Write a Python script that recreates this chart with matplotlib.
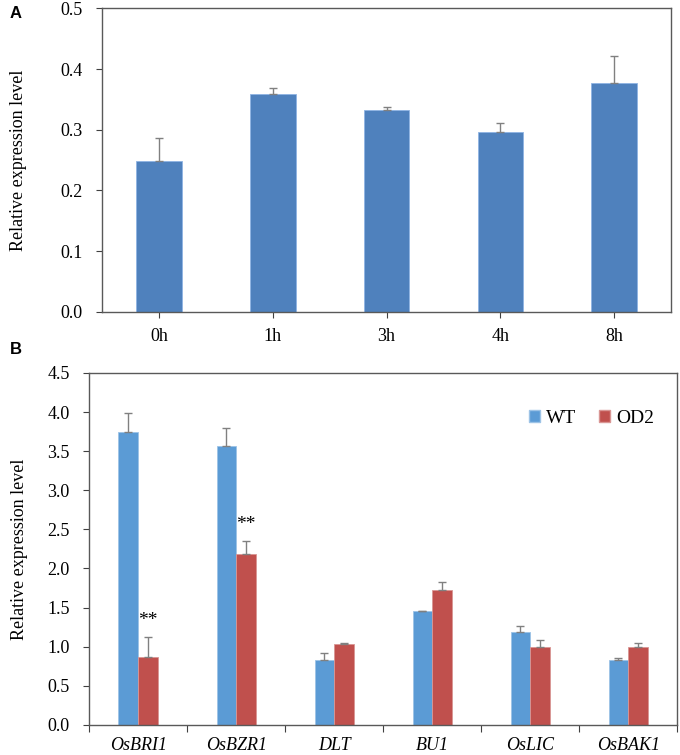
import matplotlib
matplotlib.use("Agg")
from matplotlib import pyplot as plt
from matplotlib.patches import Patch
import numpy as np

# panel A data
times = ["0h", "1h", "3h", "4h", "8h"]
time_vals = [0.249, 0.359, 0.333, 0.296, 0.377]
time_err = [0.038, 0.009, 0.004, 0.015, 0.045]

# panel B data
genes = ["OsBRI1", "OsBZR1", "DLT", "BU1", "OsLIC", "OsBAK1"]
wt_vals = [3.74, 3.56, 0.83, 1.45, 1.19, 0.83]
wt_err = [0.25, 0.23, 0.09, 0.01, 0.08, 0.03]
od2_vals = [0.87, 2.18, 1.03, 1.73, 0.99, 0.99]
od2_err = [0.25, 0.17, 0.02, 0.10, 0.10, 0.06]
signif = ["**", "**", "", "", "", ""]

plt.rcParams["font.family"] = ["Liberation Serif", "DejaVu Serif"]

fig = plt.figure(figsize=(6.8, 7.55), dpi=100)
axA = fig.add_axes([0.150, 0.587, 0.837, 0.402])
axB = fig.add_axes([0.131, 0.040, 0.865, 0.466])

err_kw = dict(ecolor="#808080", elinewidth=1.0, capsize=3, capthick=1.0)

# ---- panel A ----
x = np.arange(len(times))
axA.bar(x, time_vals, 0.4, color="#4F81BD", edgecolor="#8FB4E3", linewidth=0.6,
        yerr=[np.zeros(len(time_err)), time_err], error_kw=err_kw, zorder=2)
axA.set_xlim(-0.5, len(times) - 0.5)
axA.set_ylim(0, 0.5)
axA.set_yticks(np.arange(0, 0.51, 0.1))
axA.set_yticklabels([f"{v:.1f}" for v in np.arange(0, 0.51, 0.1)])
axA.set_xticks(x)
axA.set_xticklabels(times)
axA.tick_params(axis="both", labelsize=13, direction="out", length=4, color="#404040", pad=8)
axA.tick_params(axis="y", pad=10)
axA.set_ylabel("Relative expression level", fontsize=13, labelpad=24)

# ---- panel B ----
xb = np.arange(len(genes))
w = 0.2
axB.bar(xb - w / 2, wt_vals, w, color="#5B9BD5", edgecolor="#9DC3E6", linewidth=0.6,
        yerr=[np.zeros(len(wt_err)), wt_err], error_kw=err_kw, zorder=2, label="WT")
axB.bar(xb + w / 2, od2_vals, w, color="#C0504D", edgecolor="#D99694", linewidth=0.6,
        yerr=[np.zeros(len(od2_err)), od2_err], error_kw=err_kw, zorder=2, label="OD2")
for i, s in enumerate(signif):
    if s:
        axB.text(xb[i] + w / 2, od2_vals[i] + od2_err[i] + 0.1, s, ha="center",
                 va="bottom", fontsize=14)
axB.set_xlim(-0.5, len(genes) - 0.5)
axB.set_ylim(0, 4.5)
yt = np.arange(0, 4.51, 0.5)
axB.set_yticks(yt)
axB.set_yticklabels([f"{v:.1f}" for v in yt])
axB.set_xticks(np.arange(-0.5, len(genes), 1.0))
axB.set_xticklabels([])
axB.set_xticks(xb, minor=True)
axB.set_xticklabels(genes, minor=True, style="italic", fontsize=13)
axB.tick_params(axis="x", which="minor", length=0, pad=9)
axB.tick_params(axis="x", which="major", direction="out", length=5, color="#404040")
axB.tick_params(axis="y", labelsize=13, direction="out", length=4, color="#404040", pad=10)
axB.set_ylabel("Relative expression level", fontsize=13, labelpad=14)

handles = [Patch(facecolor="#5B9BD5", edgecolor="#9DC3E6"),
           Patch(facecolor="#C0504D", edgecolor="#D99694")]
axB.legend(handles, ["WT", "OD2"], loc="upper right", bbox_to_anchor=(0.99, 0.945),
           ncol=2, frameon=False, fontsize=14, handlelength=0.55, handleheight=0.55,
           handletextpad=0.3, columnspacing=1.2)

for ax in (axA, axB):
    for sp in ax.spines.values():
        sp.set_color("#595959")
        sp.set_linewidth(1.0)

fig.text(10 / 680, 1 - 13 / 755, "A", fontsize=12, fontweight="bold",
         family=["Liberation Sans", "DejaVu Sans"], va="center")
fig.text(10 / 680, 1 - 350 / 755, "B", fontsize=12, fontweight="bold",
         family=["Liberation Sans", "DejaVu Sans"], va="center")

fig.savefig("out.png", dpi=100)
